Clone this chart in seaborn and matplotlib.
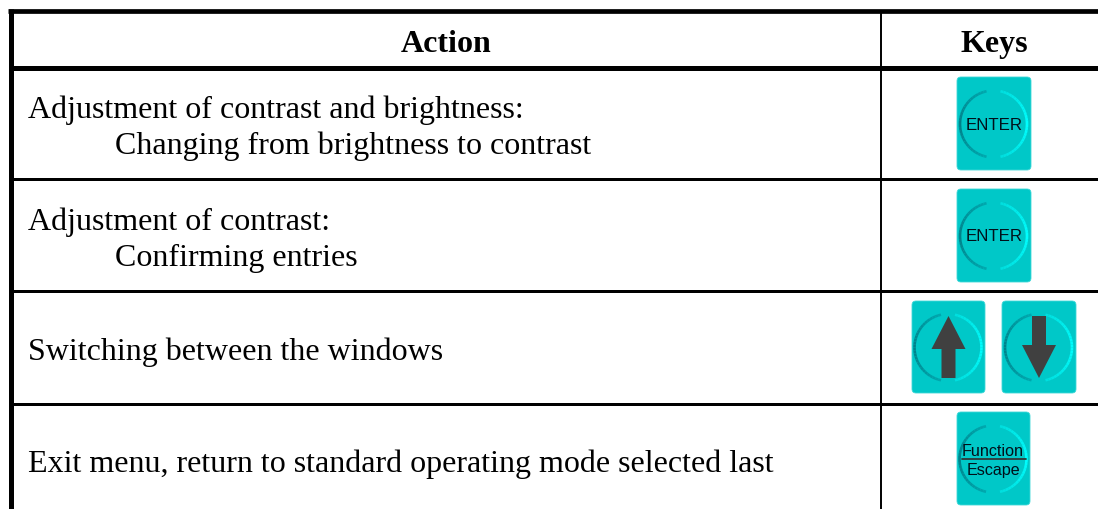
import numpy as np
import seaborn as sns
import matplotlib.pyplot as plt
from matplotlib.colors import to_rgb
from matplotlib.patches import FancyBboxPatch, Polygon

# table content
headers = ['Action', 'Keys']
row_lines = [
    ['Adjustment of contrast and brightness:', '        Changing from brightness to contrast'],
    ['Adjustment of contrast:', '        Confirming entries'],
    ['Switching between the windows'],
    ['Exit menu, return to standard operating mode selected last'],
]
row_baselines = [[118, 154], [230, 266], [360], [472]]
indent_x = 115

# table rules, in pixels of the 1098x510 picture
row_rules = [(68.5, 5), (180, 3), (292, 3), (405, 3)]
key_boxes = [
    (957, 78, 74, 93, 'enter'),
    (957, 190, 74, 93, 'enter'),
    (912, 302, 73, 92, 'up'),
    (1002, 302, 74, 92, 'down'),
    (957, 413, 73, 93, 'function'),
]

KEY_COLOR = '#00c8c8'
ARROW_COLOR = '#404040'
KEY_TEXT = '#00101a'

sns.set_theme(style='white')
plt.rcParams['font.family'] = ['Liberation Serif', 'DejaVu Sans']


def draw_ring(ax, cx, cy, r=33.5):
    # left half dark, right half bright, both fade out towards the gap
    for a0, a1, c_mid, c_end in [(102, 258, '#007f88', '#00a8ae'), (-78, 78, '#00ffff', '#00dede')]:
        angles = np.linspace(a0, a1, 31)
        mid = np.array(to_rgb(c_mid))
        end = np.array(to_rgb(c_end))
        for i in range(30):
            t = abs((angles[i] + angles[i + 1]) / 2 - (a0 + a1) / 2) / ((a1 - a0) / 2)
            xs = cx + r * np.cos(np.radians(angles[i:i + 2]))
            ys = cy - r * np.sin(np.radians(angles[i:i + 2]))
            ax.plot(xs, ys, color=mid + (end - mid) * t, lw=1.9, solid_capstyle='butt', zorder=3)


def draw_key(ax, x, y, w, h, kind):
    ax.add_patch(FancyBboxPatch((x + 4, y + 4), w - 8, h - 8, boxstyle='round,pad=4,rounding_size=4',
                                fc=KEY_COLOR, ec='#40d8d8', lw=0.6, zorder=2))
    cx = x + w / 2
    cy = y + h / 2
    draw_ring(ax, cx - 0.5, cy + 0.5)
    if kind == 'enter':
        ax.text(cx, cy + 0.5, 'ENTER', family='Liberation Sans', fontsize=12.2, color=KEY_TEXT,
                ha='center', va='center', zorder=4)
    elif kind == 'function':
        ax.text(cx - 0.5, cy - 3.5, 'Function', family='Liberation Sans', fontsize=11.6, color=KEY_TEXT,
                ha='center', va='baseline', zorder=4)
        ax.text(cx - 0.5, cy + 15.5, 'Escape', family='Liberation Sans', fontsize=11.6, color=KEY_TEXT,
                ha='center', va='baseline', zorder=4)
        ax.plot([cx - 32, cx + 32], [cy + 0.5, cy + 0.5], color='#303838', lw=1.3, zorder=4)
    else:
        sign = -1 if kind == 'up' else 1
        pts = [(cx - 7, cy - sign * 31), (cx + 7, cy - sign * 31), (cx + 7, cy - sign * 2),
               (cx + 17, cy - sign * 2), (cx, cy + sign * 31), (cx - 17, cy - sign * 2), (cx - 7, cy - sign * 2)]
        ax.add_patch(Polygon(pts, closed=True, fc=ARROW_COLOR, ec='none', zorder=4))


fig = plt.figure(figsize=(10.98, 5.10), dpi=100)
ax = fig.add_axes([0, 0, 1, 1])
ax.set_xlim(0, 1098)
ax.set_ylim(510, 0)
ax.axis('off')

# outer and inner rules
ax.plot([8, 1098], [11.5, 11.5], color='black', lw=3.4, solid_capstyle='butt')
ax.plot([10.5, 10.5], [9.5, 510], color='black', lw=3.6, solid_capstyle='butt')
ax.plot([881, 881], [11, 510], color='black', lw=1.4, solid_capstyle='butt')
for y, width in row_rules:
    ax.plot([9, 1098], [y, y], color='black', lw=width * 0.72, solid_capstyle='butt')

ax.text(446, 52, headers[0], fontsize=23, fontweight='bold', ha='center', va='baseline', color='black')
ax.text(994, 52, headers[1], fontsize=23, fontweight='bold', ha='center', va='baseline', color='black')

for lines, ys in zip(row_lines, row_baselines):
    for line, y in zip(lines, ys):
        x = indent_x if line.startswith(' ') else 28
        ax.text(x, y, line.strip(), fontsize=23, ha='left', va='baseline', color='black')

for x, y, w, h, kind in key_boxes:
    draw_key(ax, x, y, w, h, kind)

fig.savefig('out.png', dpi=100)
